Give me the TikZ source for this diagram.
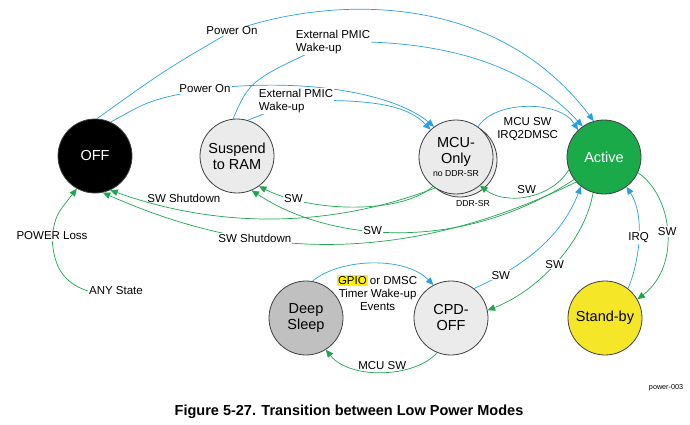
\documentclass[tikz,border=0pt]{standalone}
\usepackage{fontspec}
\setmainfont{Liberation Sans}
\usepackage{tikz}
\usetikzlibrary{arrows.meta}
\definecolor{wireblue}{RGB}{38,160,225}
\definecolor{wiregreen}{RGB}{30,165,80}
\definecolor{activegreen}{RGB}{26,170,74}
\definecolor{ringgray}{RGB}{64,64,64}
\definecolor{palegray}{RGB}{235,235,235}
\definecolor{deepgray}{RGB}{192,192,192}
\definecolor{standbyyellow}{RGB}{245,230,40}
\newcommand{\gpiomark}[1]{{\setlength{\fboxsep}{1.5pt}\kern-1.5pt\colorbox{yellow}{#1}\kern-1.5pt}}

\begin{document}
\begin{tikzpicture}[x=1pt,y=-1pt,>={Triangle[length=7.5pt,width=6.5pt]},
  mode/.style={circle,draw=ringgray,line width=0.8pt,minimum size=74pt,inner sep=0pt,
    align=center,font=\fontsize{14.5}{16}\selectfont},
  lbl/.style={fill=white,inner sep=1pt,align=center,font=\fontsize{11.5}{13}\selectfont},
  wake/.style={->,draw=wireblue,line width=0.7pt},
  sleep/.style={->,draw=wiregreen,line width=0.7pt}]
  \useasboundingbox (0,0) rectangle (690,425);
  % states
  \node[mode,fill=black,text=white] (off) at (95,156) {OFF};
  \node[mode,fill=palegray] (sus) at (237,156) {Suspend\\to RAM};
  \node[mode,fill=palegray] (mcuback) at (460,160) {};
  \node[mode,fill=palegray] (mcu) at (456,157) {MCU-\\Only\\[-3pt]{\fontsize{8.7}{10}\selectfont no DDR-SR}};
  \node[mode,fill=activegreen,text=white] (act) at (604,157) {Active};
  \node[mode,fill=deepgray] (deep) at (306,318) {Deep\\Sleep};
  \node[mode,fill=palegray] (cpd) at (451,318) {CPD-\\OFF};
  \node[mode,fill=standbyyellow] (stby) at (605,318) {Stand-by};
  \node[lbl] (any) at (116,291) {ANY State};
  \node[font=\fontsize{8.7}{10}\selectfont] (ddrsr) at (473,204) {DDR-SR};

  % wake-up paths
  \draw[wake] (off.87) .. controls (165,70) .. (232,31) node[lbl] (pon1) {Power On}
    .. controls (330,-4) and (495,-10) .. (act.106);
  \draw[wake] (sus.96) .. controls (250,80) .. (333,42) node[lbl,align=left] (pmic1) {External PMIC\\Wake-up}
    .. controls (470,38) and (540,80) .. (act.125);
  \draw[wake] (off.65) .. controls (150,100) .. (205,89) node[lbl] (pon2) {Power On}
    .. controls (320,76) and (400,98) .. (mcu.126);
  \draw[wake] (sus.73) -- (296,101) node[lbl,align=left] (pmic2) {External PMIC\\Wake-up}
    .. controls (380,98) and (410,108) .. (mcu.133);
  \draw[wake] (mcu.54) .. controls (495,100) and (560,100) ..
    node[lbl,below=9pt,fill=none] (irq2) {MCU SW\\IRQ2DMSC} (act.134);
  \draw[wake] (stby.52) .. controls (640,260) and (645,215) .. node[lbl] (irq) {IRQ} (act.307);
  \draw[wake] (cpd.52) .. controls (520,268) and (560,240) .. node[lbl,pos=.2] (sw6) {SW} (act.232);
  \draw[wake] (deep.80) .. controls (340,258) and (405,256) ..
    node[lbl,below=10pt,xshift=5pt,fill=none] (gpio) {\gpiomark{GPIO} or DMSC\\Timer Wake-up\\Events} (cpd.118);

  % sleep / shutdown paths
  \draw[sleep] (act.200) .. controls (550,200) and (505,205) .. node[lbl,above=1pt,fill=none] (sw1) {SW} (mcu.310);
  \draw[sleep] (mcu.232) .. controls (400,215) and (310,212) .. node[lbl,pos=.8] (sw2) {SW} (sus.306);
  \draw[sleep] (act.217) .. controls (460,254) and (330,242) .. node[lbl,pos=.58] (sw3) {SW} (sus.293);
  \draw[sleep] (mcu.236) .. controls (333,227) and (222,230) ..
    node[lbl,pos=.78,above=6pt,fill=none] (sd1) {SW Shutdown} (off.294);
  \draw[sleep] (act.222) .. controls (400,268) and (250,258) .. node[lbl,pos=.66] (sd2) {SW Shutdown} (off.282);
  \draw[sleep] (any.west) .. controls (60,282) and (53,262) .. (52,236) node[lbl] (ploss) {POWER Loss}
    .. controls (56,215) .. (off.241);
  \draw[sleep] (act.335) .. controls (672,195) and (682,265) .. node[lbl] (sw4) {SW} (stby.30);
  \draw[sleep] (act.253) .. controls (585,240) and (540,290) .. node[lbl,pos=.52] (sw5) {SW} (cpd.12);
  \draw[sleep] (cpd.248) .. controls (415,378) and (350,380) .. node[lbl,above=1pt,fill=none] (mcusw) {MCU SW} (deep.302);

  \node[font=\fontsize{7.2}{8}\selectfont] (tag) at (666,388) {power-003};
  \node[font=\bfseries\fontsize{14.5}{16}\selectfont] (caption) at (349,412) {Figure 5-27. Transition between Low Power Modes};
\end{tikzpicture}
\end{document}
